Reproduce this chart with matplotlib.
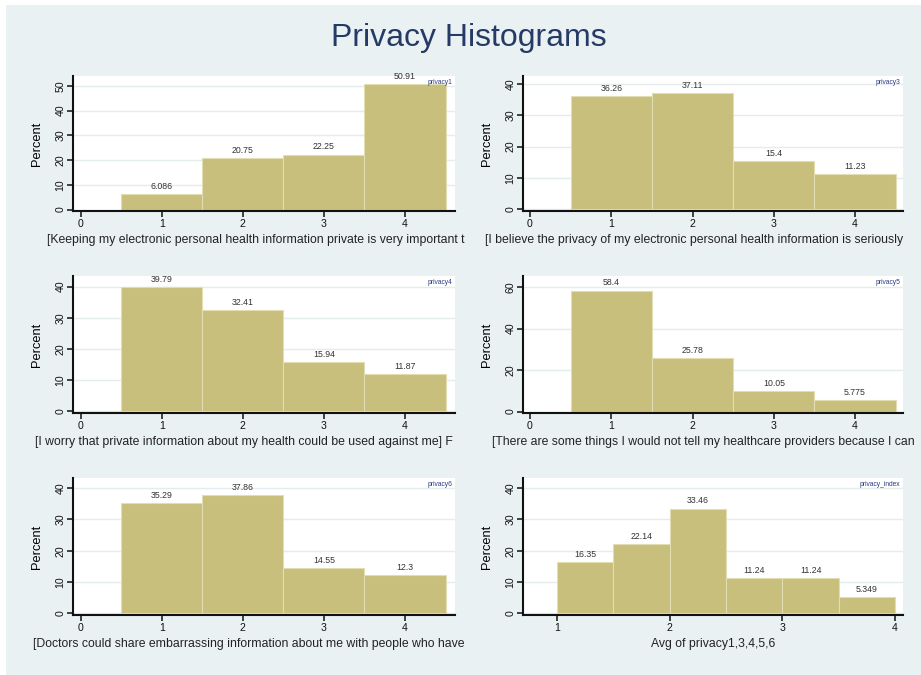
import matplotlib
matplotlib.use("Agg")
import matplotlib.pyplot as plt
from matplotlib.patches import Rectangle
from matplotlib.transforms import Bbox, TransformedBbox

W, H = 921, 675

cats = [1, 2, 3, 4]
privacy1 = [6.086, 20.75, 22.25, 50.91]
privacy3 = [36.26, 37.11, 15.4, 11.23]
privacy4 = [39.79, 32.41, 15.94, 11.87]
privacy5 = [58.4, 25.78, 10.05, 5.775]
privacy6 = [35.29, 37.86, 14.55, 12.3]
index_edges = [1, 1.5, 2, 2.5, 3, 3.5, 4]
privacy_index = [16.35, 22.14, 33.46, 11.24, 11.24, 5.349]

labels = [
    "[Keeping my electronic personal health information private is very important t",
    "[I believe the privacy of my electronic personal health information is seriously",
    "[I worry that private information about my health could be used against me] F",
    "[There are some things I would not tell my healthcare providers because I can",
    "[Doctors could share embarrassing information about me with people who have",
    "Avg of privacy1,3,4,5,6",
]
names = ["privacy1", "privacy3", "privacy4", "privacy5", "privacy6", "privacy_index"]

BG = "#eaf1f3"
BAR = "#c8bf7c"
NAVY = "#263a66"

plt.rcParams["font.family"] = ["Liberation Sans", "DejaVu Sans"]

fig = plt.figure(figsize=(W / 100, H / 100), dpi=100, facecolor="white")
fig.add_artist(Rectangle((6 / W, 0), 1, (H - 5) / H, transform=fig.transFigure,
                         facecolor=BG, edgecolor="none", zorder=-10))

fig.text(469 / W, 1 - 38 / H, "Privacy Histograms", ha="center", va="center",
         fontsize=23, color=NAVY)


def px_axes(x0, y0, x1, y1):
    return fig.add_axes([x0 / W, 1 - y1 / H, (x1 - x0) / W, (y1 - y0) / H])


# panel boxes in pixels; each spec: values, ylim, yticks, x of label start
rows = [(76, 211), (276, 413), (478, 615)]
cols = [(73, 455), (523, 903)]
specs = [
    (privacy1, (-0.6, 54.0), range(0, 51, 10), 47),
    (privacy3, (-0.5, 42.5), range(0, 41, 10), 485),
    (privacy4, (-0.5, 43.4), range(0, 41, 10), 35),
    (privacy5, (-0.7, 65.4), range(0, 61, 20), 492),
    (privacy6, (-0.5, 43.2), range(0, 41, 10), 33),
    (privacy_index, (-0.5, 43.2), range(0, 41, 10), None),
]

for i, (vals, ylim, yticks, lab_x) in enumerate(specs):
    r, c = divmod(i, 2)
    x0, x1 = cols[c]
    y0, y1 = rows[r]
    ax = px_axes(x0, y0, x1, y1)
    ax.set_facecolor("white")

    if names[i] == "privacy_index":
        lefts = index_edges[:-1]
        widths = [b - a for a, b in zip(index_edges[:-1], index_edges[1:])]
        ax.bar(lefts, vals, width=widths, align="edge", color=BAR,
               edgecolor="#e2ddb3", linewidth=0.8, zorder=2)
        centers = [a + w / 2 for a, w in zip(lefts, widths)]
        ax.set_xlim(0.698, 4.07)
        ax.set_xticks([1, 2, 3, 4])
    else:
        ax.bar(cats, vals, width=1.0, color=BAR, edgecolor="#e2ddb3",
               linewidth=0.8, zorder=2)
        centers = cats
        if c == 0:
            ax.set_xlim(-0.095, 4.617)
        else:
            ax.set_xlim(-0.086, 4.59)
        ax.set_xticks([0, 1, 2, 3, 4])

    for xc, v in zip(centers, vals):
        ax.annotate(f"{v:.4g}", (xc, v), xytext=(0, 2.2), textcoords="offset points",
                    ha="center", va="bottom", fontsize=6.3, color="#333333",
                    annotation_clip=False)

    ax.set_ylim(*ylim)
    ax.set_yticks(list(yticks))
    ax.yaxis.grid(True, color="#e4ecee", linewidth=1.0, zorder=0)
    ax.set_axisbelow(True)
    for s in ("top", "right"):
        ax.spines[s].set_visible(False)
    for s in ("left", "bottom"):
        ax.spines[s].set_linewidth(1.5)
        ax.spines[s].set_color("#111111")
    ax.tick_params(direction="out", length=4, width=1.1, labelsize=7.6,
                   colors="#111111", pad=1.5)
    for t in ax.get_yticklabels():
        t.set_rotation(90)
        t.set_va("center")
    ax.set_ylabel("Percent", fontsize=9.3)
    ax.yaxis.set_label_coords((43 + 450 * c - x0) / (x1 - x0), 0.5)

    ax.text(0.992, 0.95, names[i], transform=ax.transAxes, ha="right", va="center",
            fontsize=4.8, color="#2a3a80")

    ly = 1 - (y1 + 29) / H
    if lab_x is None:
        fig.text((x0 + x1) / 2 / W, ly, labels[i], ha="center", va="center",
                 fontsize=8.8, color="#222222")
    else:
        t = fig.text(lab_x / W, ly, labels[i], ha="left", va="center",
                     fontsize=8.8, color="#222222")
        if c == 0:
            t.set_clip_box(TransformedBbox(Bbox.from_extents(0, 0, 470 / W, 1),
                                           fig.transFigure))
            t.set_clip_on(True)

fig.savefig("out.png", dpi=100, facecolor=fig.get_facecolor())
